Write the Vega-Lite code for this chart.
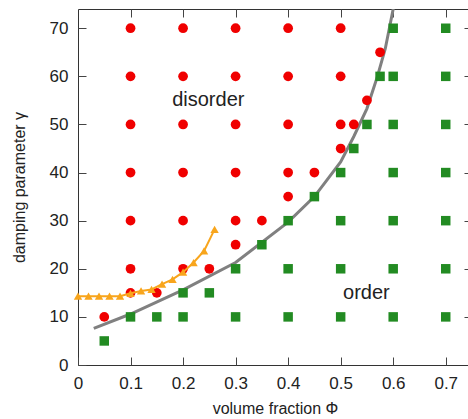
{
  "$schema": "https://vega.github.io/schema/vega-lite/v6.json",
  "width": 394,
  "height": 356,
  "autosize": "none",
  "padding": {"left": 78, "top": 9, "right": -4, "bottom": 54},
  "background": "white",
  "config": {
    "font": "Liberation Sans",
    "view": {"stroke": "#333", "strokeWidth": 1},
    "axis": {
      "domain": false,
      "grid": false,
      "tickColor": "#444",
      "tickSize": -8,
      "labelColor": "#222",
      "titleColor": "#222",
      "labelFontSize": 17,
      "titleFontSize": 16,
      "titleFontWeight": "normal",
      "labelFlush": false,
      "labelOverlap": false
    }
  },
  "datasets": {
    "boundary": [
      {"phi": 0.03, "gamma": 7.6},
      {"phi": 0.1, "gamma": 10.6},
      {"phi": 0.2, "gamma": 15.6},
      {"phi": 0.3, "gamma": 21.3},
      {"phi": 0.4, "gamma": 29.7},
      {"phi": 0.45, "gamma": 35},
      {"phi": 0.5, "gamma": 42.2},
      {"phi": 0.525, "gamma": 47.5},
      {"phi": 0.55, "gamma": 53.3},
      {"phi": 0.57, "gamma": 60},
      {"phi": 0.585, "gamma": 65.8},
      {"phi": 0.6, "gamma": 74},
      {"phi": 0.605, "gamma": 77}
    ],
    "disorder": [
      {"phi": 0.05, "gamma": 10},
      {"phi": 0.1, "gamma": 15}, {"phi": 0.1, "gamma": 20}, {"phi": 0.1, "gamma": 30}, {"phi": 0.1, "gamma": 40}, {"phi": 0.1, "gamma": 50}, {"phi": 0.1, "gamma": 60}, {"phi": 0.1, "gamma": 70},
      {"phi": 0.15, "gamma": 15},
      {"phi": 0.2, "gamma": 20}, {"phi": 0.2, "gamma": 30}, {"phi": 0.2, "gamma": 40}, {"phi": 0.2, "gamma": 50}, {"phi": 0.2, "gamma": 60}, {"phi": 0.2, "gamma": 70},
      {"phi": 0.25, "gamma": 20},
      {"phi": 0.3, "gamma": 25}, {"phi": 0.3, "gamma": 30}, {"phi": 0.3, "gamma": 40}, {"phi": 0.3, "gamma": 50}, {"phi": 0.3, "gamma": 60}, {"phi": 0.3, "gamma": 70},
      {"phi": 0.35, "gamma": 30},
      {"phi": 0.4, "gamma": 35}, {"phi": 0.4, "gamma": 40}, {"phi": 0.4, "gamma": 50}, {"phi": 0.4, "gamma": 60}, {"phi": 0.4, "gamma": 70},
      {"phi": 0.45, "gamma": 40},
      {"phi": 0.5, "gamma": 45}, {"phi": 0.5, "gamma": 50}, {"phi": 0.5, "gamma": 60}, {"phi": 0.5, "gamma": 70},
      {"phi": 0.525, "gamma": 50},
      {"phi": 0.55, "gamma": 55},
      {"phi": 0.575, "gamma": 65}
    ],
    "order": [
      {"phi": 0.05, "gamma": 5},
      {"phi": 0.1, "gamma": 10},
      {"phi": 0.15, "gamma": 10},
      {"phi": 0.2, "gamma": 10}, {"phi": 0.2, "gamma": 15},
      {"phi": 0.25, "gamma": 15},
      {"phi": 0.3, "gamma": 10}, {"phi": 0.3, "gamma": 20},
      {"phi": 0.35, "gamma": 25},
      {"phi": 0.4, "gamma": 10}, {"phi": 0.4, "gamma": 20}, {"phi": 0.4, "gamma": 30},
      {"phi": 0.45, "gamma": 35},
      {"phi": 0.5, "gamma": 10}, {"phi": 0.5, "gamma": 20}, {"phi": 0.5, "gamma": 30}, {"phi": 0.5, "gamma": 40},
      {"phi": 0.525, "gamma": 45},
      {"phi": 0.55, "gamma": 50},
      {"phi": 0.575, "gamma": 60},
      {"phi": 0.6, "gamma": 10}, {"phi": 0.6, "gamma": 20}, {"phi": 0.6, "gamma": 30}, {"phi": 0.6, "gamma": 40}, {"phi": 0.6, "gamma": 50}, {"phi": 0.6, "gamma": 60}, {"phi": 0.6, "gamma": 70},
      {"phi": 0.7, "gamma": 10}, {"phi": 0.7, "gamma": 20}, {"phi": 0.7, "gamma": 30}, {"phi": 0.7, "gamma": 40}, {"phi": 0.7, "gamma": 50}, {"phi": 0.7, "gamma": 60}, {"phi": 0.7, "gamma": 70}
    ],
    "orange": [
      {"phi": 0.0, "gamma": 14.3},
      {"phi": 0.02, "gamma": 14.3},
      {"phi": 0.04, "gamma": 14.3},
      {"phi": 0.06, "gamma": 14.3},
      {"phi": 0.08, "gamma": 14.3},
      {"phi": 0.1, "gamma": 14.9},
      {"phi": 0.12, "gamma": 15.4},
      {"phi": 0.14, "gamma": 15.7},
      {"phi": 0.16, "gamma": 16.8},
      {"phi": 0.18, "gamma": 17.8},
      {"phi": 0.2, "gamma": 19.3},
      {"phi": 0.22, "gamma": 21.3},
      {"phi": 0.24, "gamma": 23.7},
      {"phi": 0.26, "gamma": 28.2}
    ],
    "labels": [
      {"phi": 0.248, "gamma": 55.0, "label": "disorder"},
      {"phi": 0.549, "gamma": 14.9, "label": "order"}
    ]
  },
  "layer": [
    {
      "data": {"name": "boundary"},
      "mark": {"type": "line", "color": "#808080", "strokeWidth": 3, "clip": true},
      "encoding": {
        "x": {
          "field": "phi", "type": "quantitative",
          "scale": {"domain": [0, 0.75], "nice": false, "zero": false},
          "axis": {
            "orient": "bottom",
            "values": [0, 0.1, 0.2, 0.3, 0.4, 0.5, 0.6, 0.7],
            "format": "~g",
            "labelPadding": 18,
            "title": "volume fraction Φ",
            "titleBaseline": "alphabetic",
            "titleY": 48
          }
        },
        "y": {
          "field": "gamma", "type": "quantitative",
          "scale": {"domain": [0, 74], "nice": false, "zero": false},
          "axis": {
            "orient": "left",
            "values": [0, 10, 20, 30, 40, 50, 60, 70],
            "labelPadding": 18,
            "title": "damping parameter γ",
            "titleX": -51,
            "titleY": 178
          }
        }
      }
    },
    {
      "data": {"name": "disorder"},
      "mark": {"type": "circle", "color": "#f00000", "opacity": 1, "size": 95},
      "encoding": {
        "x": {
          "field": "phi", "type": "quantitative",
          "axis": {"orient": "top", "values": [0.1, 0.2, 0.3, 0.4, 0.5, 0.6, 0.7], "labels": false, "title": null}
        },
        "y": {
          "field": "gamma", "type": "quantitative",
          "axis": {"orient": "right", "values": [10, 20, 30, 40, 50, 60, 70], "labels": false, "title": null}
        }
      }
    },
    {
      "data": {"name": "order"},
      "mark": {"type": "square", "color": "#228b22", "opacity": 1, "size": 90},
      "encoding": {
        "x": {"field": "phi", "type": "quantitative", "axis": null},
        "y": {"field": "gamma", "type": "quantitative", "axis": null}
      }
    },
    {
      "data": {"name": "orange"},
      "mark": {"type": "line", "color": "#f8a51c", "strokeWidth": 2},
      "encoding": {
        "x": {"field": "phi", "type": "quantitative", "axis": null},
        "y": {"field": "gamma", "type": "quantitative", "axis": null}
      }
    },
    {
      "data": {"name": "orange"},
      "mark": {"type": "point", "shape": "triangle-up", "filled": true, "color": "#f8a51c", "opacity": 1, "size": 70},
      "encoding": {
        "x": {"field": "phi", "type": "quantitative", "axis": null},
        "y": {"field": "gamma", "type": "quantitative", "axis": null}
      }
    },
    {
      "data": {"name": "labels"},
      "mark": {"type": "text", "fontSize": 20, "color": "#222", "align": "center", "baseline": "middle"},
      "encoding": {
        "x": {"field": "phi", "type": "quantitative", "axis": null},
        "y": {"field": "gamma", "type": "quantitative", "axis": null},
        "text": {"field": "label"}
      }
    }
  ],
  "resolve": {"axis": {"x": "independent", "y": "independent"}}
}
